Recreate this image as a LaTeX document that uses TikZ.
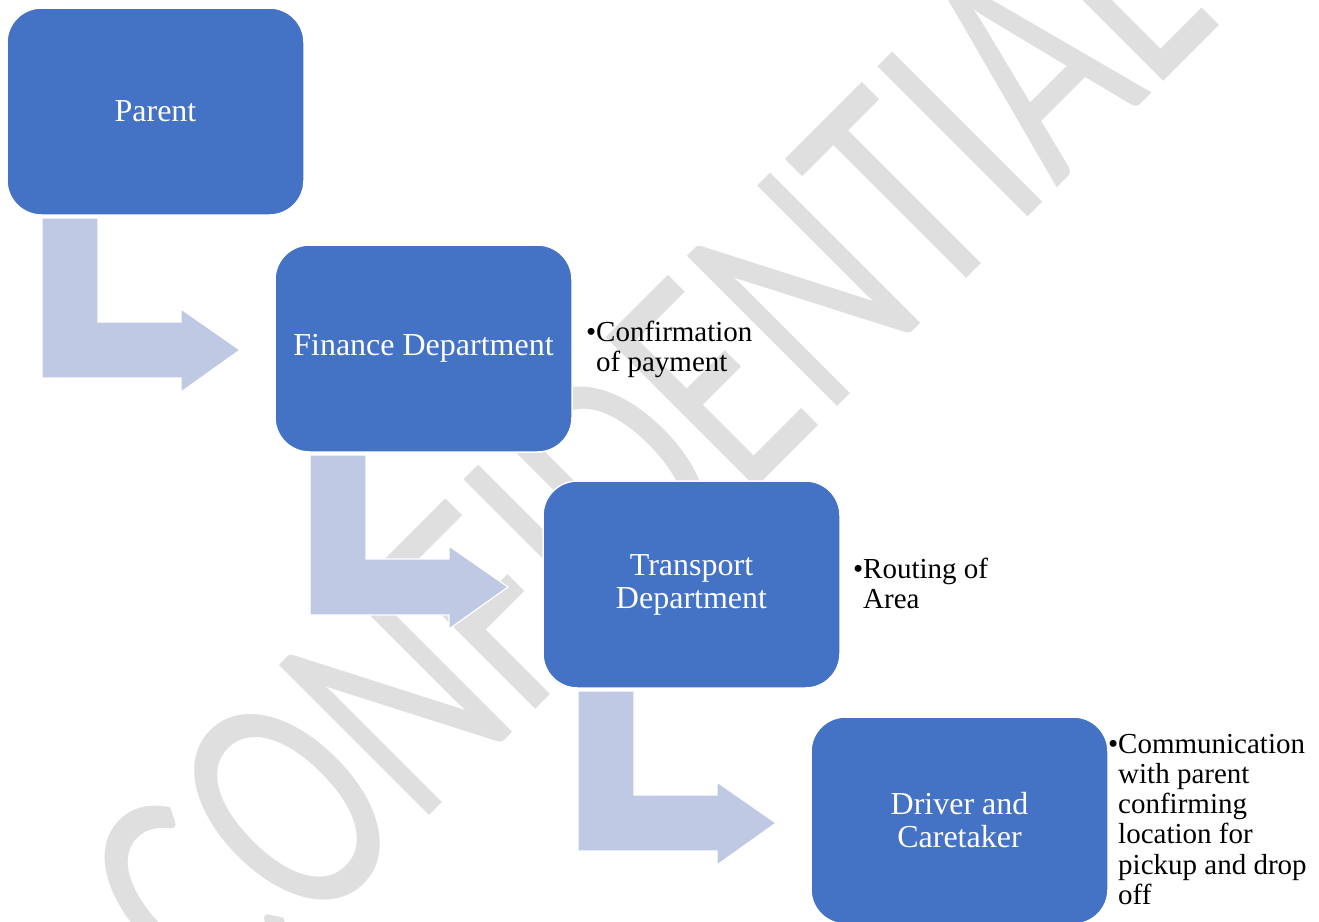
\documentclass[tikz,border=0pt]{standalone}
\usepackage{fontspec}
\setmainfont{Liberation Serif}
\newfontfamily\wmfont{Carlito}
\definecolor{boxblue}{HTML}{4472C4}
\definecolor{arrowblue}{HTML}{BFC9E3}
\definecolor{wmgray}{RGB}{223,223,223}
\begin{document}
\begin{tikzpicture}[x=1pt,y=-1pt,
  stepbox/.style={draw=white, line width=1.5pt, fill=boxblue, rounded corners=34.5pt,
    minimum width=297pt, minimum height=207pt, outer sep=0pt, inner sep=0pt,
    text=white, align=center, font=\fontsize{32}{33}\selectfont},
  bentarrow/.style={fill=arrowblue, draw=white, line width=1.2pt, line join=miter},
  note/.style={anchor=base west, inner sep=0pt, text=black, font=\fontsize{29}{30.3}\selectfont},
  watermark/.style={text=wmgray, inner sep=0pt, font=\wmfont\fontsize{331}{331}\selectfont}
]
\useasboundingbox (0,0) rectangle (1319,921);
\fill[white] (0,0) rectangle (1319,921);

% watermark (behind everything)
\node[watermark, anchor=base, rotate=45, xscale=0.71] (wm) at (721,523.5) {CONFIDENTIAL};

% process steps
\node[stepbox] (parent)    at (155.5,111.5) {Parent};
\node[stepbox] (finance)   at (423.5,348.5) {Finance Department};
\node[stepbox] (transport) at (691.5,584.5) {Transport\\Department};
\node[stepbox] (driver)    at (959.5,820.5) {Driver and\\Caretaker};

% notes
\node[note] (nfinance) at (596,341) {\begin{tabular}[t]{@{}l@{}}\llap{\textbullet}Confirmation\\of payment\end{tabular}};
\node[note] (ntransport) at (863,578) {\begin{tabular}[t]{@{}l@{}}\llap{\textbullet}Routing of\\Area\end{tabular}};
\node[note] (ndriver) at (1118,753) {\begin{tabular}[t]{@{}l@{}}\llap{\textbullet}Communication\\with parent\\confirming\\location for\\pickup and drop\\off\end{tabular}};

% bent arrows from each step to the next
\foreach \a in {parent,finance,transport}{
  \begin{scope}[shift={(\a.south west)}]
    \draw[bentarrow] (35,3) -- (91,3) -- (91,107) -- (174,107) -- (174,94)
      -- (233,135) -- (174,177) -- (174,163) -- (35,163) -- cycle;
  \end{scope}
}
\end{tikzpicture}
\end{document}
